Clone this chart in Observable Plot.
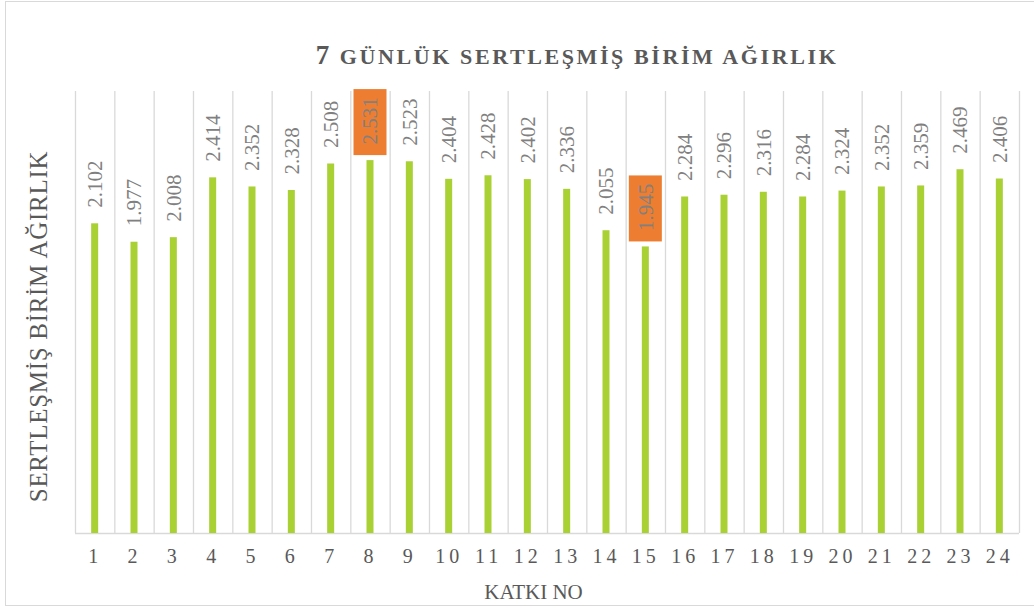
<!DOCTYPE html>
<html>
<head>
<meta charset="utf-8">
<script src="https://cdn.jsdelivr.net/npm/d3@7"></script>
<script src="https://cdn.jsdelivr.net/npm/@observablehq/plot@0.6"></script>
<style>
  html, body { margin: 0; padding: 0; background: #fff; }
  #wrap { position: relative; width: 1034px; height: 610px; overflow: hidden; }
  #border { position: absolute; left: 5px; top: 1px; width: 1040px; height: 605px; border: 1.3px solid #d9d9d9; box-sizing: border-box; }
  #title { position: absolute; top: 40px; left: 577px; transform: translateX(-50%); white-space: nowrap;
           font-family: "Liberation Serif", "Times New Roman", serif; font-weight: bold; color: #595959;
           font-size: 22px; letter-spacing: 2.6px; }
  #title .big { font-size: 27px; }
  #chart { position: absolute; left: 0; top: 0; }
  #chart svg, #chart svg text { font-family: "Liberation Serif", "Times New Roman", serif !important; }
  g[aria-label="x-axis tick label"] text { letter-spacing: 4px; }
  #chart svg text.ylab { letter-spacing: 0.7px; }
</style>
</head>
<body>
<div id="wrap">
  <div id="border"></div>
  <div id="chart"></div>
  <div id="title"><span class="big">7</span> GÜNLÜK SERTLEŞMİŞ BİRİM AĞIRLIK</div>
</div>
<script>
const categories = ["1","2","3","4","5","6","7","8","9","10","11","12","13","14","15","16","17","18","19","20","21","22","23","24"];
const values = [2.102, 1.977, 2.008, 2.414, 2.352, 2.328, 2.508, 2.531, 2.523, 2.404, 2.428, 2.402, 2.336, 2.055, 1.945, 2.284, 2.296, 2.316, 2.284, 2.324, 2.352, 2.359, 2.469, 2.406];
const xLabel = "KATKI NO";
const yLabel = "SERTLEŞMİŞ BİRİM AĞIRLIK";

const data = categories.map((c, i) => ({cat: c, value: values[i]}));
const maxV = d3.max(values), minV = d3.min(values);
const highlighted = data.filter(d => d.value === maxV || d.value === minV);

const W = 1034, H = 610, ML = 75, MR = 15, MT = 91, MB = 77;
const bw = (W - ML - MR) / categories.length;
const k = (H - MT - MB) / 3; // px per unit
const fmt = d3.format(".3f");
const serif = "Liberation Serif";

const chart = Plot.plot({
  width: W, height: H,
  marginLeft: ML, marginRight: MR, marginTop: MT, marginBottom: MB,
  style: {fontFamily: serif, fontSize: "20px", color: "#595959", background: "transparent"},
  x: {type: "band", domain: categories, padding: 0, round: false, label: null},
  y: {domain: [0, 3], axis: null},
  marks: [
    Plot.ruleX(categories, {x: d => d, dx: -bw / 2, stroke: "#d9d9d9", strokeWidth: 1.3}),
    Plot.ruleX(categories.slice(-1), {x: d => d, dx: bw / 2, stroke: "#d9d9d9", strokeWidth: 1.3}),
    Plot.ruleY([0], {stroke: "#d9d9d9", strokeWidth: 1.6}),
    Plot.barY(data, {x: "cat", y: "value", fill: "#a9d134", insetLeft: (bw - 7) / 2, insetRight: (bw - 7) / 2}),
    Plot.barY(highlighted, {x: "cat", y1: d => d.value + 5 / k, y2: d => d.value + 71 / k, fill: "#ed7d31",
      insetLeft: (bw - 33) / 2, insetRight: (bw - 33) / 2}),
    Plot.text(data, {x: "cat", y: "value", text: d => fmt(d.value), rotate: -90, textAnchor: "start",
      lineAnchor: "middle", dy: -16, fontSize: 21, fontFamily: serif, fill: "#808080"}),
    Plot.axisX({tickSize: 0, tickPadding: 15, fontSize: 20, fontFamily: serif, label: null}),
    Plot.text([xLabel], {frameAnchor: "bottom", textAnchor: "middle", lineAnchor: "middle", dx: -14, dy: 59,
      fontSize: 21, fontFamily: serif, fill: "#595959"}),
    Plot.text([yLabel], {frameAnchor: "left", textAnchor: "middle", lineAnchor: "middle", dx: -37, dy: 14,
      rotate: -90, fontSize: 25, fontFamily: serif, fill: "#595959"})
  ]
});
d3.select(chart).selectAll("text").filter(function() { return this.textContent === yLabel; }).classed("ylab", true);
document.getElementById("chart").appendChild(chart);
</script>
</body>
</html>
